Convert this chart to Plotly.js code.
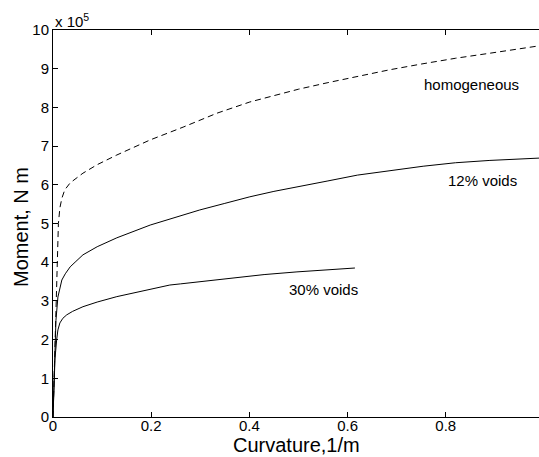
<!DOCTYPE html>
<html><head><meta charset="utf-8">
<script src="https://cdn.plot.ly/plotly-3.0.1.min.js"></script>
<style>html,body{margin:0;padding:0;background:#fff}</style>
</head><body><div id="chart" style="width:539px;height:457px"></div>
<script>
// Curvature (1/m) and Moment (x 10^5 N m)
const homoX = [0, 0.008, 0.011, 0.014, 0.018, 0.024, 0.035, 0.061, 0.09, 0.13, 0.165, 0.198, 0.265, 0.334, 0.401, 0.45, 0.5, 0.56, 0.62, 0.685, 0.75, 0.82, 0.89, 0.99];
const homoY = [0, 4.0, 5.0, 5.4, 5.65, 5.87, 6.05, 6.30, 6.52, 6.77, 6.97, 7.16, 7.49, 7.85, 8.14, 8.31, 8.47, 8.64, 8.80, 8.97, 9.12, 9.27, 9.40, 9.59];
const v12X = [0, 0.006, 0.01, 0.014, 0.018, 0.025, 0.035, 0.045, 0.061, 0.09, 0.13, 0.198, 0.25, 0.299, 0.35, 0.401, 0.45, 0.5, 0.56, 0.62, 0.69, 0.754, 0.82, 0.89, 0.99];
const v12Y = [0, 2.5, 3.1, 3.35, 3.54, 3.70, 3.88, 4.00, 4.19, 4.40, 4.63, 4.96, 5.17, 5.35, 5.52, 5.69, 5.83, 5.96, 6.10, 6.25, 6.37, 6.48, 6.57, 6.63, 6.69];
const v30X = [0, 0.004, 0.0075, 0.01, 0.014, 0.02, 0.028, 0.04, 0.061, 0.09, 0.13, 0.165, 0.198, 0.238, 0.26, 0.3, 0.36, 0.43, 0.497, 0.56, 0.615];
const v30Y = [0, 1.5, 2.0, 2.25, 2.43, 2.55, 2.64, 2.73, 2.85, 2.97, 3.11, 3.21, 3.31, 3.41, 3.44, 3.50, 3.59, 3.68, 3.75, 3.81, 3.85];
const xTicks = [0, 0.2, 0.4, 0.6, 0.8];
const xTickText = ['0', '0.2', '0.4', '0.6', '0.8'];
const yTicks = [0,1,2,3,4,5,6,7,8,9,10];
const xTitle = 'Curvature,1/m';
const yTitle = 'Moment, N m';
const labels = [
  {text: 'homogeneous', x: 0.853, y: 8.6},
  {text: '12% voids', x: 0.875, y: 6.1},
  {text: '30% voids', x: 0.55, y: 3.3}
];

const traces = [
  {x: homoX, y: homoY, mode: 'lines', line: {color: '#000', width: 1, dash: '6px,4px'}},
  {x: v12X, y: v12Y, mode: 'lines', line: {color: '#000', width: 1}},
  {x: v30X, y: v30Y, mode: 'lines', line: {color: '#000', width: 1}}
];
traces.forEach(t => { t.hoverinfo = 'skip'; });

const font = {family: 'Liberation Sans, Arial, sans-serif', color: '#000'};
const f = s => Object.assign({size: s}, font);
const layout = {
  width: 539, height: 457,
  margin: {l: 53, r: 0, t: 30, b: 40},
  paper_bgcolor: '#fff', plot_bgcolor: '#fff',
  showlegend: false,
  font: f(15),
  xaxis: {
    range: [0, 0.99], tickvals: xTicks, ticktext: xTickText,
    ticks: 'inside', ticklen: 5, tickcolor: '#000', tickwidth: 1,
    showline: true, linecolor: '#000', linewidth: 1, mirror: 'ticks',
    showgrid: false, zeroline: false, automargin: false,
    ticklabelstandoff: -5,
    tickfont: f(15)
  },
  yaxis: {
    range: [0, 10], tickvals: yTicks,
    ticks: 'inside', ticklen: 5, tickcolor: '#000', tickwidth: 1,
    showline: true, linecolor: '#000', linewidth: 1, mirror: false,
    showgrid: false, zeroline: false, automargin: false,
    tickfont: f(15)
  },
  annotations: labels.map(l => ({
    text: l.text, x: l.x, y: l.y, xref: 'x', yref: 'y', showarrow: false,
    font: f(15)
  })).concat([
    {text: 'x 10<sup>5</sup>', xref: 'paper', yref: 'paper', x: 0, y: 1,
     xanchor: 'left', yanchor: 'bottom', showarrow: false, yshift: -2, font: f(15)},
    {text: xTitle, xref: 'paper', yref: 'paper', x: 0.5, y: -0.107,
     xanchor: 'center', yanchor: 'bottom', showarrow: false, font: f(20)},
    {text: yTitle, xref: 'paper', yref: 'paper', x: -0.0658, y: 0.491,
     xanchor: 'center', yanchor: 'middle', textangle: -90, showarrow: false, font: f(20)}
  ])
};
Plotly.newPlot('chart', traces, layout, {staticPlot: true, displayModeBar: false});
</script></body></html>
